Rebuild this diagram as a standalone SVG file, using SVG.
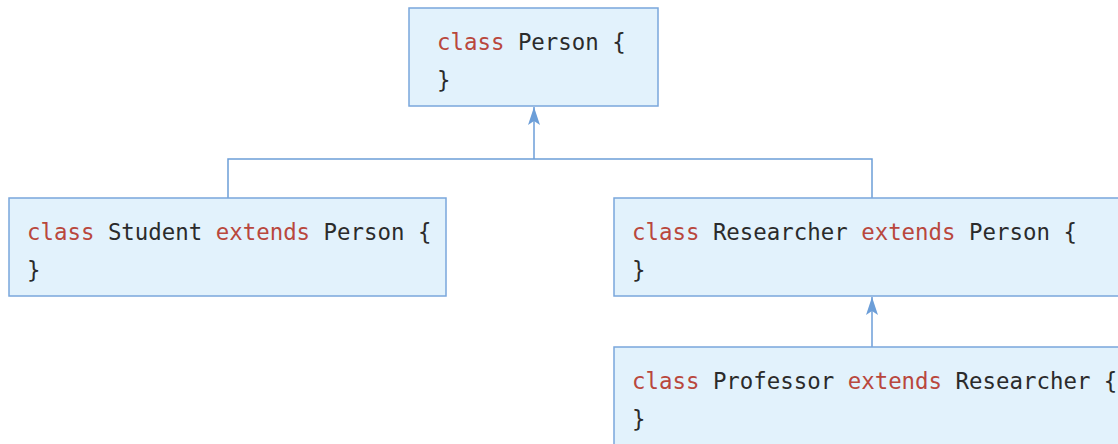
<svg xmlns="http://www.w3.org/2000/svg" width="1118" height="444" viewBox="0 0 1118 444">
<style>
.box{fill:#e2f2fc;stroke:#7aa7dc;stroke-width:1.5}
.t{font-family:"DejaVu Sans Mono","Liberation Mono",monospace;font-size:22.4px;fill:#2b2b2b}
.k{fill:#b9473d}
.c{fill:none;stroke:#6c9ed8;stroke-width:1.5}
</style>
<defs>
<marker id="ah" markerWidth="20" markerHeight="14" refX="19" refY="7" orient="auto" markerUnits="userSpaceOnUse" viewBox="0 0 20 14">
<path d="M19,7 L1,1 L5,7 L1,13 Z" fill="#6c9ed8"/>
</marker>
</defs>
<g id="connectors">
<path class="c" d="M228,198 V159 H872 V198"/>
<path class="c" d="M534,159 V107" marker-end="url(#ah)"/>
<path class="c" d="M872,347 V297" marker-end="url(#ah)"/>
</g>
<g id="person">
<rect class="box" x="409" y="8" width="249" height="98"/>
<text class="t" x="437" y="50"><tspan class="k">class</tspan> Person {</text>
<text class="t" x="437" y="88">}</text>
</g>
<g id="student">
<rect class="box" x="9" y="198" width="437" height="98"/>
<text class="t" x="27" y="240"><tspan class="k">class</tspan> Student <tspan class="k">extends</tspan> Person {</text>
<text class="t" x="27" y="278">}</text>
</g>
<g id="researcher">
<rect class="box" x="614" y="198" width="520" height="98"/>
<text class="t" x="632" y="240"><tspan class="k">class</tspan> Researcher <tspan class="k">extends</tspan> Person {</text>
<text class="t" x="632" y="278">}</text>
</g>
<g id="professor">
<rect class="box" x="614" y="347" width="520" height="110"/>
<text class="t" x="632" y="389"><tspan class="k">class</tspan> Professor <tspan class="k">extends</tspan> Researcher {</text>
<text class="t" x="632" y="427">}</text>
</g>
</svg>
